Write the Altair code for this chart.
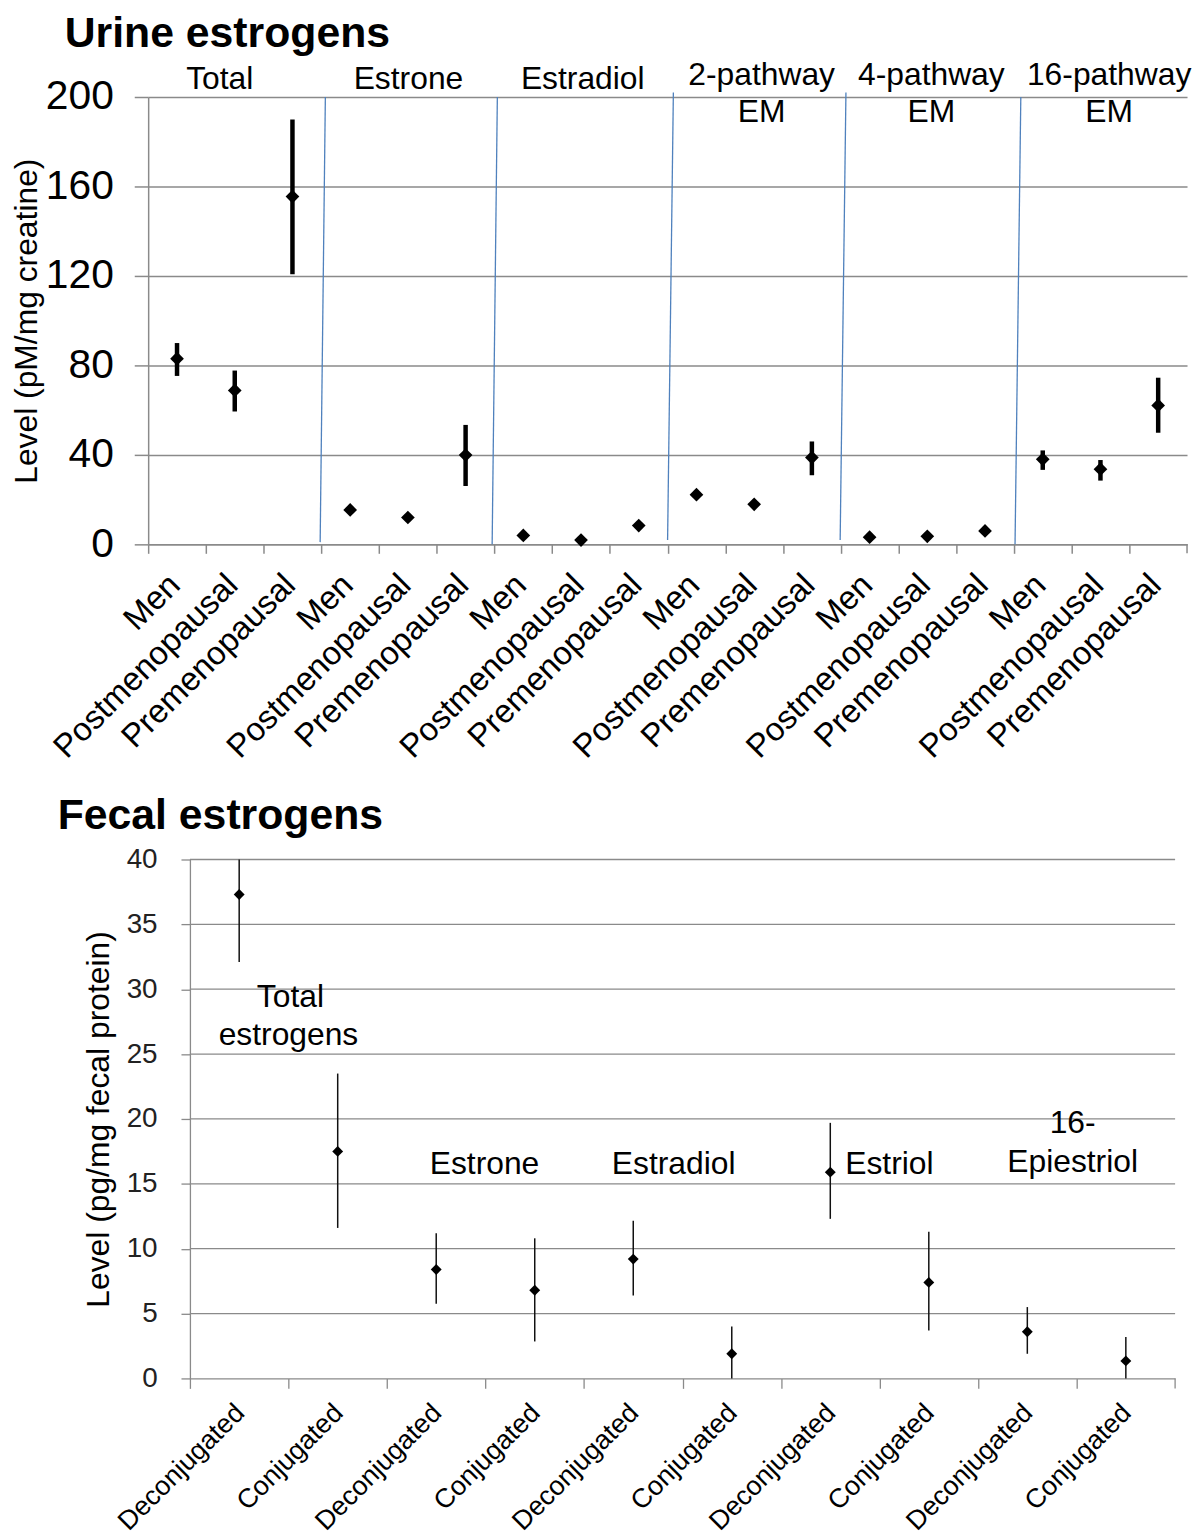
import json
import altair as alt
import pandas as pd

FONT = "Liberation Sans"
GRID = "#8a8a8a"
BLUE = "#4f81bd"

# ---------------- Urine estrogens ----------------
urine_groups = ["Total", "Estrone", "Estradiol", "2-pathway EM", "4-pathway EM", "16-pathway EM"]
urine_subgroups = ["Men", "Postmenopausal", "Premenopausal"]
urine_mean = [83.0, 68.8, 155.5, 15.4, 12.0, 39.9, 4.0, 1.9, 8.4, 22.2, 17.9, 38.8, 3.2, 3.6, 6.0, 38.0, 33.6, 62.1]
urine_low = [75.3, 59.4, 120.8, 15.4, 12.0, 26.1, 4.0, 1.9, 8.4, 22.2, 16.3, 30.9, 3.2, 3.6, 6.0, 33.3, 28.5, 49.9]
urine_high = [90.0, 77.7, 189.9, 15.4, 12.0, 53.4, 4.0, 1.9, 8.4, 22.2, 19.5, 46.0, 3.2, 3.6, 6.0, 42.0, 37.7, 74.5]

urine_header_text = ["Total", "Estrone", "Estradiol", "2-pathway", "EM", "4-pathway", "EM", "16-pathway", "EM"]
urine_header_x = [1.24, 4.51, 7.53, 10.63, 10.63, 13.57, 13.57, 16.65, 16.65]
urine_header_y = [208.0, 208.0, 208.0, 210.0, 193.3, 210.0, 193.3, 210.0, 193.3]

urine_sep_x_bottom = [2.98, 5.96, 9.0, 11.99, 15.02]
urine_sep_x_top = [3.07, 6.05, 9.10, 12.09, 15.12]
urine_sep_y_bottom = [1.0, 0.0, 2.0, 2.0, 0.0]
urine_sep_y_top = [200.0, 200.0, 202.0, 202.0, 200.0]

# ---------------- Fecal estrogens ----------------
fecal_groups = ["Total estrogens", "Estrone", "Estradiol", "Estriol", "16-Epiestriol"]
fecal_subgroups = ["Deconjugated", "Conjugated"]
fecal_mean = [37.3, 17.5, 8.4, 6.8, 9.2, 1.9, 15.9, 7.4, 3.6, 1.35]
fecal_low = [32.1, 11.6, 5.75, 2.85, 6.4, 0.0, 12.3, 3.7, 1.9, 0.0]
fecal_high = [40.0, 23.5, 11.2, 10.8, 12.15, 4.0, 19.7, 11.3, 5.5, 3.2]

fecal_header_text = ["Total", "estrogens", "Estrone", "Estradiol", "Estriol", "16-", "Epiestriol"]
fecal_header_x = [1.02, 1.0, 2.99, 4.91, 7.1, 8.96, 8.96]
fecal_header_y = [29.4, 26.45, 16.55, 16.55, 16.55, 19.7, 16.7]

fecal_grid = [5, 10, 15, 20, 25, 30, 35, 40]

# ---------------- build tables ----------------
urine_labels = [s for g in urine_groups for s in urine_subgroups]
n_u = len(urine_labels)
urine_df = pd.DataFrame({
    "pos": [i + 0.5 for i in range(n_u)],
    "label": urine_labels,
    "mean": urine_mean, "low": urine_low, "high": urine_high,
})
urine_head_df = pd.DataFrame({"x": urine_header_x, "y": urine_header_y, "t": urine_header_text})
urine_sep_df = pd.DataFrame({"x": urine_sep_x_bottom, "x2": urine_sep_x_top,
                             "y": urine_sep_y_bottom, "y2": urine_sep_y_top})
urine_end_df = pd.DataFrame({"x": [n_u], "y": [0.0], "y2": [-4.0]})

fecal_labels = [s for g in fecal_groups for s in fecal_subgroups]
n_f = len(fecal_labels)
fecal_df = pd.DataFrame({
    "pos": [i + 0.5 for i in range(n_f)],
    "label": fecal_labels,
    "mean": fecal_mean, "low": fecal_low, "high": fecal_high,
})
fecal_head_df = pd.DataFrame({"x": fecal_header_x, "y": fecal_header_y, "t": fecal_header_text})
fecal_grid_df = pd.DataFrame({"y": fecal_grid, "x0": [0] * len(fecal_grid), "x1": [n_f] * len(fecal_grid)})
fecal_end_df = pd.DataFrame({"x": [n_f], "y": [0.0], "y2": [-0.77]})

# ---------------- top chart ----------------
W1, H1 = 1045, 450
ux_scale = alt.Scale(domain=[0, n_u], nice=False, zero=False)
uy_scale = alt.Scale(domain=[0, 200], nice=False)
u_xaxis = alt.Axis(
    values=list(range(n_u)),
    labelExpr=f"{json.dumps(urine_labels)}[datum.value]",
    labelAngle=-45, labelAlign="right", labelBaseline="top", labelLimit=500,
    labelOffset=15, labelPadding=15, labelFontSize=33, labelFont=FONT, labelColor="black",
    tickSize=9, tickColor=GRID, tickWidth=1.5, domainColor=GRID, domainWidth=1.5,
    grid=False, title=None, labelOverlap=False, labelBound=False, labelFlush=False,
)
u_yaxis = alt.Axis(
    values=[0, 40, 80, 120, 160, 200], grid=True, gridColor=GRID, gridWidth=1.5,
    tickSize=14, tickColor=GRID, tickWidth=1.5, domainColor=GRID, domainWidth=1.5,
    labelFontSize=41, labelFont=FONT, labelColor="black", labelPadding=21,
    title="Level (pM/mg creatine)", titleFontSize=32, titleFont=FONT, titleFontWeight="normal",
    titleColor="black", titlePadding=2,
)

u_err = alt.Chart(urine_df).mark_rule(color="black", strokeWidth=4.5).encode(
    x=alt.X("pos:Q", scale=ux_scale, axis=u_xaxis),
    y=alt.Y("low:Q", scale=uy_scale, axis=u_yaxis),
    y2="high:Q",
)
u_pts = alt.Chart(urine_df).mark_point(shape="diamond", filled=True, color="black", size=190, opacity=1).encode(
    x=alt.X("pos:Q", scale=ux_scale, axis=u_xaxis),
    y=alt.Y("mean:Q", scale=uy_scale, axis=u_yaxis),
)
u_sep = alt.Chart(urine_sep_df).mark_rule(color=BLUE, strokeWidth=1.3).encode(
    x=alt.X("x:Q", scale=ux_scale, axis=u_xaxis), x2="x2:Q",
    y=alt.Y("y:Q", scale=uy_scale, axis=u_yaxis), y2="y2:Q",
)
u_end = alt.Chart(urine_end_df).mark_rule(color=GRID, strokeWidth=1.5).encode(
    x=alt.X("x:Q", scale=ux_scale, axis=u_xaxis),
    y=alt.Y("y:Q", scale=uy_scale, axis=u_yaxis), y2="y2:Q",
)
u_text = alt.Chart(urine_head_df).mark_text(font=FONT, fontSize=32, color="black",
                                            align="center", baseline="middle").encode(
    x=alt.X("x:Q", scale=ux_scale, axis=u_xaxis),
    y=alt.Y("y:Q", scale=uy_scale, axis=u_yaxis),
    text="t:N",
)
top = alt.layer(u_sep, u_end, u_err, u_pts, u_text).properties(
    width=W1, height=H1,
    title=alt.Title("Urine estrogens", anchor="start", frame="group", dx=-84,
                    fontSize=43, fontWeight="bold", font=FONT, color="black", offset=3),
)

# ---------------- bottom chart ----------------
fx_scale = alt.Scale(domain=[0, n_f], nice=False, zero=False, range=[42, 1033])
fy_scale = alt.Scale(domain=[0, 40], nice=False)
f_xaxis = alt.Axis(
    values=list(range(n_f)),
    labelExpr=f"{json.dumps(fecal_labels)}[datum.value]",
    labelAngle=-45, labelAlign="right", labelBaseline="top", labelLimit=500,
    labelOffset=41, labelPadding=11, labelFontSize=27, labelFont=FONT, labelColor="black",
    tickSize=10, tickColor=GRID, tickWidth=1.3, domainColor=GRID, domainWidth=1.3,
    grid=False, title=None, labelOverlap=False, labelBound=False, labelFlush=False,
)
f_yaxis = alt.Axis(
    values=[0, 5, 10, 15, 20, 25, 30, 35, 40], grid=False, offset=-42,
    tickSize=9, tickColor=GRID, tickWidth=1.3, domainColor=GRID, domainWidth=1.3,
    labelFontSize=28, labelFont=FONT, labelColor="#222222", labelPadding=24,
    title="Level (pg/mg fecal protein)", titleFontSize=32, titleFont=FONT, titleFontWeight="normal",
    titleColor="black", titlePadding=11,
)

f_grid = alt.Chart(fecal_grid_df).mark_rule(color=GRID, strokeWidth=1.3).encode(
    x=alt.X("x0:Q", scale=fx_scale, axis=f_xaxis), x2="x1:Q",
    y=alt.Y("y:Q", scale=fy_scale, axis=f_yaxis),
)
f_end = alt.Chart(fecal_end_df).mark_rule(color=GRID, strokeWidth=1.3).encode(
    x=alt.X("x:Q", scale=fx_scale, axis=f_xaxis),
    y=alt.Y("y:Q", scale=fy_scale, axis=f_yaxis), y2="y2:Q",
)
f_err = alt.Chart(fecal_df).mark_rule(color="#111111", strokeWidth=1.5).encode(
    x=alt.X("pos:Q", scale=fx_scale, axis=f_xaxis),
    y=alt.Y("low:Q", scale=fy_scale, axis=f_yaxis),
    y2="high:Q",
)
f_pts = alt.Chart(fecal_df).mark_point(shape="diamond", filled=True, color="black", size=120, opacity=1).encode(
    x=alt.X("pos:Q", scale=fx_scale, axis=f_xaxis),
    y=alt.Y("mean:Q", scale=fy_scale, axis=f_yaxis),
)
f_text = alt.Chart(fecal_head_df).mark_text(font=FONT, fontSize=32, color="black",
                                            align="center", baseline="middle").encode(
    x=alt.X("x:Q", scale=fx_scale, axis=f_xaxis),
    y=alt.Y("y:Q", scale=fy_scale, axis=f_yaxis),
    text="t:N",
)
bottom = alt.layer(f_grid, f_end, f_err, f_pts, f_text).properties(
    width=W1, height=522,
    title=alt.Title("Fecal estrogens", anchor="start", frame="group", dx=-91,
                    fontSize=43, fontWeight="bold", font=FONT, color="black", offset=8),
)

chart = alt.vconcat(top, bottom, spacing=30).properties(
    padding={"left": 2, "top": 0, "right": 0, "bottom": 0}
).configure_view(stroke=None)

chart.save("out.html", embed_options={"renderer": "svg", "actions": False})
